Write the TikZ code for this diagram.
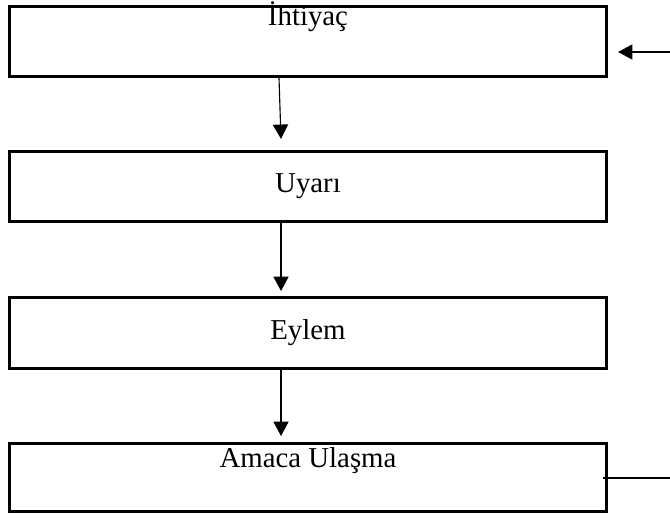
\documentclass[tikz,border=0pt]{standalone}
\usepackage{fontspec}
\setmainfont{Liberation Serif}
\usetikzlibrary{positioning, arrows.meta}

\tikzset{
    stage/.style={draw, line width=2.2pt, minimum width=14.925cm, minimum height=1.75cm, inner sep=0pt},
    flow/.style={-{Triangle[length=0.36cm, width=0.38cm]}, line width=0.8pt}
}

\begin{document}
\begin{tikzpicture}[font=\fontsize{20.5pt}{24pt}\selectfont]
                \useasboundingbox (0,0) rectangle (16.75,-12.925);

                \node[stage] (need) at (7.7,-1.0375) {};
                \node[anchor=base] (needtext) at ([yshift=-0.525cm]need.north) {İhtiyaç};
                \node[stage] (alert) at (7.7,-4.6625) {Uyarı};
                \node[stage, minimum height=1.775cm] (action) at (7.7,-8.325) {Eylem};
                \node[stage, minimum height=1.7cm] (goal) at (7.7,-11.9375) {};
                \node[anchor=base] (goaltext) at ([yshift=-0.65cm]goal.north) {Amaca Ulaşma};

                \draw[flow] ([xshift=-0.725cm]need.south) -- ([xshift=-0.675cm, yshift=0.275cm]alert.north);
                \draw[flow] ([xshift=-0.675cm]alert.south) -- ([xshift=-0.675cm, yshift=0.125cm]action.north);
                \draw[flow] ([xshift=-0.675cm]action.south) -- ([xshift=-0.675cm, yshift=0.15cm]goal.north);

                % loop back from the goal to the need
                \coordinate (feedin) at (16.75,-1.3);
                \coordinate (feedout) at (16.75,-11.95);
                \draw[flow, shorten >=0.25cm] (feedin) -- (need.east |- feedin);
                \draw[line width=0.8pt, shorten >=-0.125cm] (feedout) -- (goal.east |- feedout);
            \end{tikzpicture}
\end{document}
